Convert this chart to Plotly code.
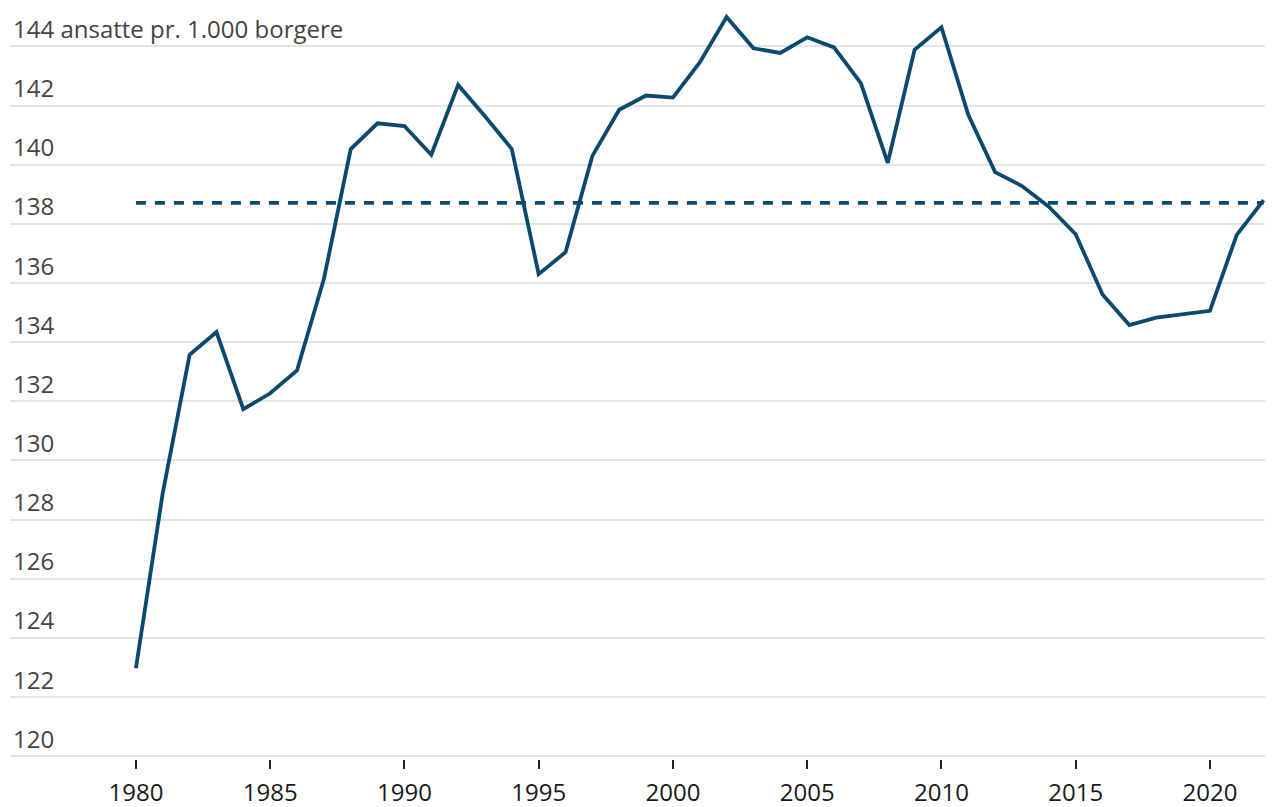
import plotly.graph_objects as go

years = list(range(1980, 2023))
values = [122.97, 128.9, 133.57, 134.34, 131.73, 132.27, 133.04, 136.13, 140.53, 141.4,
          141.31, 140.34, 142.70, 141.64, 140.53, 136.3, 137.04, 140.3, 141.86, 142.34,
          142.27, 143.46, 145.0, 143.94, 143.78, 144.31, 143.97, 142.76, 140.06, 143.89,
          144.65, 141.69, 139.75, 139.28, 138.58, 137.65, 135.61, 134.58, 134.83, 134.95,
          135.06, 137.63, 138.8]
average_value = 138.71
average_years = [1980, 2022]

y_tickvals = list(range(120, 145, 2))
y_ticktext = [str(v) for v in y_tickvals[:-1]] + ["144 ansatte pr. 1.000 borgere"]
x_tickvals = list(range(1980, 2021, 5))

color = "#0b4a6e"
x_range = [1975.31, 2022.35]
y_range = [119.9, 145.2]

fig = go.Figure()
fig.add_trace(go.Scatter(
    x=average_years, y=[average_value] * len(average_years), mode="lines",
    line=dict(color=color, width=3.8, dash="10px,9px"), hoverinfo="skip", showlegend=False))
fig.add_trace(go.Scatter(
    x=years, y=values, mode="lines",
    line=dict(color=color, width=3.8), showlegend=False))
# invisible helper trace so the year-tick axis (x2/y2) is drawn
fig.add_trace(go.Scatter(x=[years[0]], y=[values[0]], xaxis="x2", yaxis="y2",
                         mode="markers", marker=dict(opacity=0),
                         hoverinfo="skip", showlegend=False))

# page body has an 8px margin, so the figure is slightly smaller than the window
fig.update_layout(
    width=1265, height=799,
    margin=dict(l=2, r=0, t=3, b=48),
    paper_bgcolor="white", plot_bgcolor="white",
    font=dict(family="'Open Sans', sans-serif", size=24, color="#1a1a1a"),
    xaxis=dict(range=x_range, showticklabels=False, ticks="", automargin=False,
               showgrid=False, zeroline=False, showline=False),
    yaxis=dict(range=y_range, tickvals=y_tickvals, ticktext=y_ticktext,
               ticklabelposition="inside top", ticks="", automargin=False,
               showgrid=True, gridcolor="#e4e4e4", gridwidth=1.8,
               zeroline=False, showline=False),
    xaxis2=dict(range=x_range, overlaying="x", anchor="y2", side="bottom",
                tickvals=x_tickvals, ticks="outside", ticklen=9, automargin=False,
                tickwidth=1.5, tickcolor="#222222", ticklabelstandoff=3,
                showgrid=False, zeroline=False, showline=False),
    yaxis2=dict(range=y_range, overlaying="y", anchor="x2", showticklabels=False,
                ticks="", showgrid=False, zeroline=False, showline=False,
                automargin=False),
)

fig.write_html("out.html")
